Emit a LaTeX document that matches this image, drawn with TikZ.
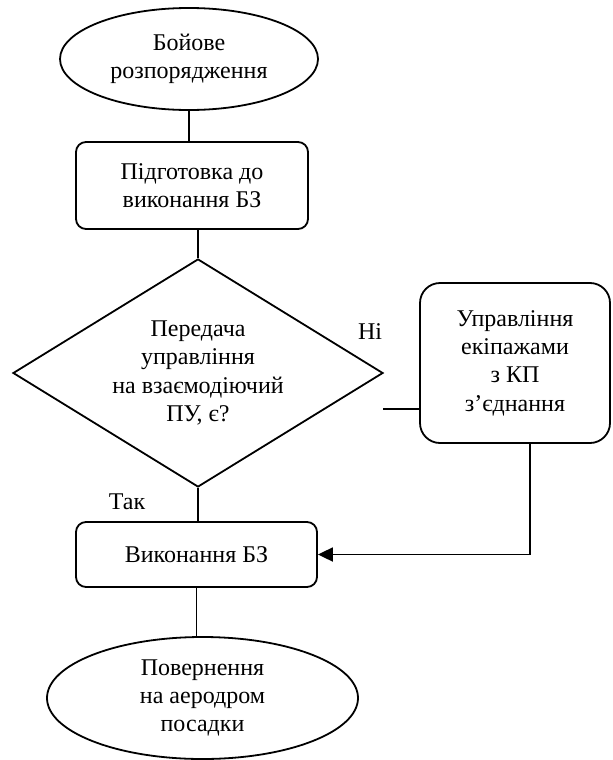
\documentclass[tikz,border=0pt]{standalone}
\usepackage{fontspec}
\setmainfont{Liberation Serif}
\usetikzlibrary{shapes.geometric,arrows.meta}
\tikzset{
  every node/.style = {font=\fontsize{12}{14.2}\selectfont},
  termnode/.style   = {ellipse,draw,line width=0.9pt,inner sep=0pt,align=center},
  stepbox/.style    = {rectangle,rounded corners=5pt,draw,line width=0.9pt,inner sep=0pt,align=center},
  decision/.style   = {diamond,shape aspect=1.62,draw,line width=0.9pt,inner sep=0pt,align=center},
  link/.style       = {line width=0.9pt},
  linkarr/.style    = {line width=0.9pt,-{Triangle[length=7.5pt,width=7pt]}}
}

\begin{document}
\begin{tikzpicture}[x=0.5pt,y=-0.5pt]
  \useasboundingbox (0,0) rectangle (612,760);
  \node[termnode,minimum width=129pt,minimum height=51pt] (start) at (189,59) {Бойове\\розпорядження};
  \node[stepbox,minimum width=116pt,minimum height=43.5pt] (prep) at (192,185.5) {Підготовка до\\виконання БЗ};
  \node[decision,minimum width=185pt,minimum height=114pt] (dec) at (198,373) {Передача\\управління\\на взаємодіючий\\ПУ, є?};
  \node[stepbox,rounded corners=10pt,minimum width=95pt,minimum height=80pt] (ctrl) at (515,363) {Управління\\екіпажами\\з КП\\з’єднання};
  \node[stepbox,minimum width=120.5pt,minimum height=32.5pt] (exec) at (196.5,554.5) {Виконання БЗ};
  \node[termnode,minimum width=155.5pt,minimum height=61pt] (finish) at (202.5,698) {Повернення\\на аеродром\\посадки};
  \node (no) at (370,332) {Ні};
  \node (yes) at (127,502) {Так};
  \coordinate (noend) at (383,409);

  \draw[link] (start.south) -- (start.south |- prep.north);
  \draw[link] (dec.north |- prep.south) -- (dec.north);
  \draw[link] (dec.south) -- (dec.south |- exec.north);
  \draw[link] (exec.south) -- (exec.south |- finish.north);
  \draw[link] (noend) -- (noend -| ctrl.west);
  \draw[linkarr] ([xshift=7.5pt]ctrl.south) |- (exec.east);
\end{tikzpicture}
\end{document}
